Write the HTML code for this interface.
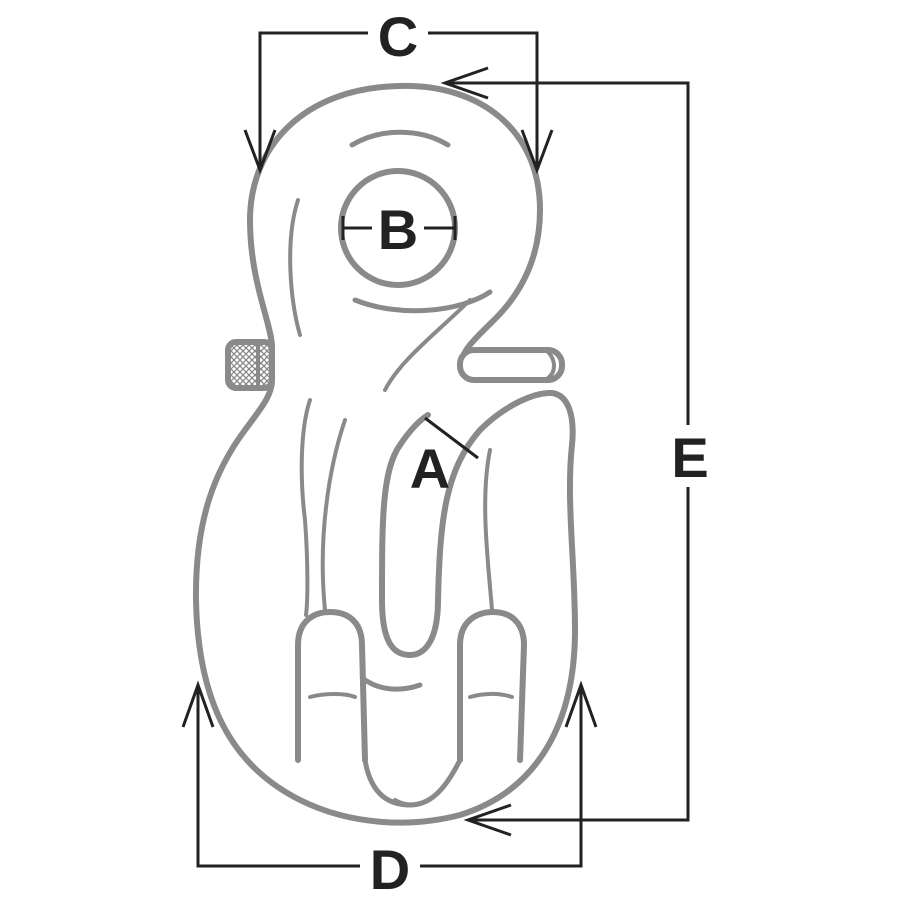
<!DOCTYPE html>
<html><head><style>
html,body{margin:0;padding:0;background:#fff}
svg{display:block}
text{font-family:"Liberation Sans",Arial,sans-serif;font-weight:bold;fill:#222}
</style></head><body>
<svg width="900" height="900" viewBox="0 0 900 900">
<defs>
<pattern id="hatch" width="6" height="6" patternUnits="userSpaceOnUse">
<path d="M0,0 L6,6 M6,0 L0,6" stroke="#888" stroke-width="1.3"/>
</pattern>
</defs>
<g fill="none" stroke="#8a8a8a" stroke-width="6" stroke-linejoin="round" stroke-linecap="round">
<path d="M400,86 C480,84 540,130 540,210 C540,265 515,300 492,322 C478,336 462,350 462,362 C462,375 470,380 480,378"/>
<path d="M438,600 C440,520 445,470 480,430 C505,405 535,392 552,393 C568,395 575,415 572,445 C566,500 575,560 575,630 C575,720 540,790 460,815 C410,828 350,825 300,800 C230,765 198,700 196,600 C195,520 215,470 245,430 C262,407 272,395 272,380 L272,345 C270,320 250,280 250,220 C250,150 300,88 400,86"/>
<path d="M438,600 C438,640 425,655 410,655 C392,655 382,640 382,600 C382,520 382,470 400,445 C410,430 420,420 428,415"/>
<rect x="460" y="350" width="102" height="30" rx="14" fill="#fff"/>
<path d="M548,352 C556,360 556,372 548,378" stroke-width="4"/>
<rect x="228" y="342" width="44" height="46" rx="8" fill="url(#hatch)"/>
<line x1="258" y1="345" x2="258" y2="386" stroke-width="4"/>
<circle cx="398" cy="228" r="57"/>
<path d="M352,145 C380,128 420,128 448,145" stroke-width="5"/>
<path d="M355,300 C400,318 460,312 490,292" stroke-width="5"/>
<path d="M298,200 C285,240 290,300 300,335" stroke-width="4"/>
<path d="M470,300 C440,330 400,360 385,390" stroke-width="4"/>
<path d="M310,400 C300,430 300,480 305,520 C308,560 308,600 306,615" stroke-width="4"/>
<path d="M345,420 C328,470 318,540 325,610" stroke-width="4"/>
<path d="M490,450 C480,500 488,560 492,610" stroke-width="4"/>
<path d="M298,760 L298,645 C298,620 315,612 330,612 C348,612 362,622 362,645 L365,760"/>
<path d="M460,760 L460,645 C460,620 478,612 493,612 C510,612 524,622 524,645 L520,760"/>
<path d="M365,680 C380,690 400,692 420,685" stroke-width="5"/>
<path d="M310,697 C325,693 345,693 355,697" stroke-width="4"/>
<path d="M470,697 C485,693 500,693 512,697" stroke-width="4"/>
<path d="M365,760 C370,790 385,805 410,805 C430,805 445,790 460,760" stroke-width="5"/>
<path d="M395,800 C405,806 418,806 428,800" stroke-width="4"/>
</g>
<g fill="none" stroke="#222" stroke-width="3">
<path d="M260,170 L260,33 L537,33 L537,170"/>
<path d="M245,130 L260,170 L275,130 M522,130 L537,170 L552,130"/>
<path d="M445,83 L688,83 L688,820 L468,820"/>
<path d="M488,68 L445,83 L488,98 M511,805 L468,820 L511,835"/>
<path d="M198,685 L198,866 L581,866 L581,685"/>
<path d="M183,727 L198,685 L213,727 M566,727 L581,685 L596,727"/>
<path d="M343,228 L455,228 M343,216 L343,240 M455,216 L455,240"/>
<path d="M425,418 L478,458"/>
</g>
<rect x="368" y="8" width="60" height="54" fill="#fff"/>
<text x="398" y="56" font-size="56" text-anchor="middle">C</text>
<rect x="664" y="425" width="50" height="62" fill="#fff"/>
<text x="690" y="477" font-size="56" text-anchor="middle">E</text>
<rect x="360" y="842" width="60" height="52" fill="#fff"/>
<text x="390" y="889" font-size="56" text-anchor="middle">D</text>
<rect x="372" y="200" width="52" height="54" fill="#fff"/>
<text x="398" y="249" font-size="56" text-anchor="middle">B</text>
<text x="430" y="488" font-size="56" text-anchor="middle">A</text>
</svg>
</body></html>
